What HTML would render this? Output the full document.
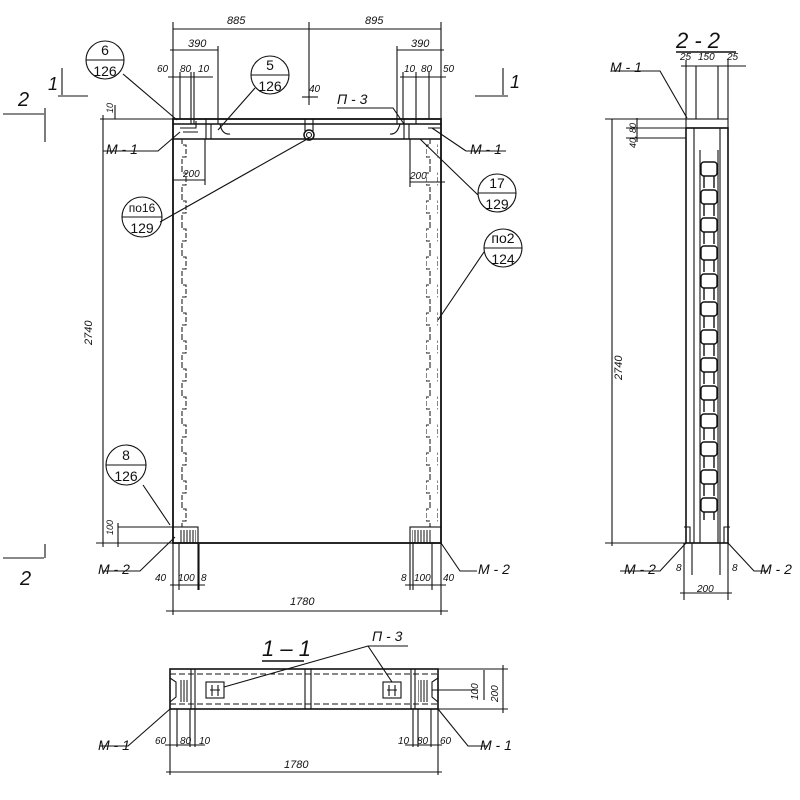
<!DOCTYPE html>
<html><head><meta charset="utf-8"><style>
html,body{margin:0;padding:0;background:#fff}
svg{display:block}
text{font-family:"Liberation Sans",sans-serif;font-style:italic;fill:#111}
.c{text-anchor:middle;font-style:normal;font-size:14px}
</style></head><body>
<svg width="800" height="800" viewBox="0 0 800 800" xmlns="http://www.w3.org/2000/svg">
<defs>
<pattern id="wl" x="0" y="139" width="12" height="28" patternUnits="userSpaceOnUse">
<path d="M2 0 V6 H6 V18 H2 V28" fill="none" stroke="#222" stroke-width="1.1" stroke-dasharray="5 2"/>
</pattern>
<pattern id="wr" x="0" y="139" width="12" height="28" patternUnits="userSpaceOnUse">
<path d="M10 0 V6 H6 V18 H10 V28" fill="none" stroke="#222" stroke-width="1.1" stroke-dasharray="5 2"/>
</pattern>
<pattern id="core" x="700" y="160" width="40" height="28" patternUnits="userSpaceOnUse">
<rect x="1" y="2" width="16" height="14" rx="3" fill="none" stroke="#111" stroke-width="1.4"/>
<path d="M4 16 V30 M14 16 V30" stroke="#111" stroke-width="1.4"/>
</pattern>
<pattern id="hatch" width="3" height="10" patternUnits="userSpaceOnUse">
<path d="M1 0 V10" stroke="#111" stroke-width="1"/>
</pattern>
</defs>
<g stroke="#111" fill="none" stroke-width="1.1">
<rect x="173" y="119" width="268" height="424" stroke-width="1.8"/>
<path d="M173 124 H441 M173 139 H441" stroke-width="1.5"/>
<path d="M206 119 V139 M211 124 V139 M404 119 V139 M409 124 V139 M305 119 V131 M313 119 V131"/>
<path d="M180 128 H196 V121 M428 128 H440 M183 132 H198"/>
<circle cx="309" cy="135" r="5" stroke-width="1.5"/>
<circle cx="309" cy="135" r="2.5"/>
<path d="M220 124 Q222 135 230 134 M400 124 Q397 135 390 134"/>
<rect x="176" y="139" width="12" height="388" fill="url(#wl)" stroke="none"/>
<rect x="426" y="139" width="12" height="388" fill="url(#wr)" stroke="none"/>
<rect x="173" y="527" width="25" height="16"/>
<rect x="179" y="530" width="17" height="13" fill="url(#hatch)" stroke="none"/>
<rect x="410" y="527" width="31" height="16"/>
<rect x="412" y="530" width="20" height="13" fill="url(#hatch)" stroke="none"/>
<path d="M173 29 H441 M173 22 V119 M309 22 V105 M441 22 V119"/>
<path d="M170 50 H218 M218 46 V124 M397 50 H444 M397 46 V124"/>
<path d="M168 77 H213 M180 72 V119 M191 72 V124 M194 72 V124 M400 77 H446 M403 72 V119 M416 72 V124 M429 72 V119"/>
<path d="M302 97 H318"/>
<path d="M100 119 H173 M115 105 V119"/>
<path d="M173 180 H205 M205 139 V185 M410 182 H445 M410 139 V187"/>
<path d="M103 115 V547 M96 543 H173 M118 527 H173 M118 523 V547"/>
<path d="M173 543 V615 M441 543 V615 M166 611 H448 M198 543 V590 M199 543 V590 M179 543 V590 M410 543 V590 M413 543 V590 M432 543 V590 M170 585 H205 M405 585 H446"/>
<path d="M123 74 L177 120 M255 88 L218 130 M103 151 L158 151 L180 132 M337 108 L393 108 L404 124 M466 151 L506 151 M466 151 L432 128 M478 195 L420 139 M160 222 L309 138 M484 252 L438 320 M143 485 L170 525 M103 571 L140 571 L175 537 M477 571 L460 571 L441 543"/>
<circle cx="105" cy="60" r="19"/><path d="M86 60 H124"/>
<circle cx="270" cy="75" r="19"/><path d="M251 75 H289"/>
<circle cx="497" cy="193" r="19"/><path d="M478 193 H516"/>
<circle cx="142" cy="217" r="20"/><path d="M122 217 H162"/>
<circle cx="503" cy="248" r="19"/><path d="M484 248 H522"/>
<circle cx="126" cy="465" r="20"/><path d="M106 465 H146"/>
<path d="M3 114 H44 M45 108 V142 M62 68 V95 M58 96 H88 M503 68 V95 M475 96 H508 M3 558 H44 M45 544 V558"/>
<rect x="686" y="128" width="42" height="415" stroke-width="1.6"/>
<rect x="686" y="119" width="42" height="9"/>
<path d="M694 128 V543 M720 128 V543 M700 150 V543 M718 150 V543"/>
<rect x="700" y="160" width="19" height="360" fill="url(#core)" stroke="none"/>
<path d="M684 527 h6 v16 M730 527 h-6 v16"/>
<path d="M686 60 V119 M728 60 V119 M681 66 H746 M696 66 V119 M718 66 V119"/>
<path d="M612 119 V546 M605 119 H686 M605 543 H686 M626 128 H686 M626 138 H686 M637 118 V142"/>
<path d="M684 543 V600 M728 543 V600 M680 593 H732 M692 543 V575 M720 543 V575"/>
<path d="M612 71 H660 L687 118 M768 571 L754 571 L728 543 M620 571 L660 571 L686 543"/>
<path d="M676 52 H736" stroke-width="1.6"/>
<rect x="170" y="669" width="268" height="40" stroke-width="1.6"/>
<path d="M170 674 H438 M170 704 H438" stroke-dasharray="6 3"/>
<path d="M191 669 V709 M195 669 V709 M411 669 V709 M415 669 V709 M305 669 V709 M311 669 V709"/>
<rect x="206" y="682" width="18" height="16"/><path d="M210 690 H220 M212 685 V696 M218 685 V696"/>
<rect x="383" y="682" width="18" height="16"/><path d="M387 690 H397 M389 685 V696 M395 685 V696"/>
<rect x="179" y="680" width="10" height="22" fill="url(#hatch)" stroke="none"/>
<rect x="418" y="680" width="10" height="22" fill="url(#hatch)" stroke="none"/>
<path d="M170 678 L176 682 V697 L170 702 M438 678 L432 682 V697 L438 702"/>
<path d="M262 661 H304" stroke-width="1.6"/>
<path d="M224 687 L368 646 L408 646 M368 646 L392 682"/>
<path d="M438 669 H508 M438 709 H508 M432 690 H478 M503 665 V713 M484 670 V700"/>
<path d="M170 709 V775 M438 709 V775 M166 772 H442 M177 709 V747 M190 709 V747 M195 709 V747 M413 709 V747 M418 709 V747 M431 709 V747 M165 745 H205 M405 745 H442"/>
<path d="M100 746 L128 746 L170 709 M488 746 L468 746 L438 709"/>
</g>
<g font-size="11">
<text x="227" y="24">885</text><text x="365" y="24">895</text>
<text x="188" y="47">390</text><text x="411" y="47">390</text>
<text x="157" y="72" font-size="10">60</text><text x="180" y="72" font-size="10">80</text><text x="198" y="72" font-size="10">10</text>
<text x="404" y="72" font-size="10">10</text><text x="421" y="72" font-size="10">80</text><text x="443" y="72" font-size="10">50</text>
<text x="309" y="92" font-size="10">40</text>
<text x="183" y="177" font-size="10">200</text><text x="410" y="179" font-size="10">200</text>
<text class="c" x="105" y="55">6</text><text class="c" x="105" y="76">126</text>
<text class="c" x="270" y="70">5</text><text class="c" x="270" y="91">126</text>
<text class="c" x="497" y="188">17</text><text class="c" x="497" y="209">129</text>
<text class="c" x="142" y="212" style="font-size:12px">по16</text><text class="c" x="142" y="233">129</text>
<text class="c" x="503" y="243">по2</text><text class="c" x="503" y="264">124</text>
<text class="c" x="126" y="460">8</text><text class="c" x="126" y="481">126</text>
<text x="106" y="154" font-size="14" font-style="normal">М - 1</text>
<text x="470" y="154" font-size="14" font-style="normal">М - 1</text>
<text x="337" y="104" font-size="14" font-style="normal">П - 3</text>
<text x="98" y="574" font-size="14" font-style="normal">М - 2</text>
<text x="478" y="574" font-size="14" font-style="normal">М - 2</text>
<text x="155" y="581" font-size="10">40</text><text x="178" y="581" font-size="10">100</text><text x="201" y="581" font-size="10">8</text>
<text x="401" y="581" font-size="10">8</text><text x="414" y="581" font-size="10">100</text><text x="443" y="581" font-size="10">40</text>
<text x="290" y="605">1780</text>
<text x="0" y="0" transform="translate(92,345) rotate(-90)">2740</text>
<text x="0" y="0" font-size="9" transform="translate(113,535) rotate(-90)">100</text>
<text x="0" y="0" font-size="9" transform="translate(113,113) rotate(-90)">10</text>
<text x="18" y="106" font-size="20" font-style="normal">2</text>
<text x="48" y="90" font-size="18" font-style="normal">1</text>
<text x="510" y="88" font-size="18" font-style="normal">1</text>
<text x="20" y="585" font-size="20" font-style="normal">2</text>
<text x="676" y="48" font-size="22" font-style="normal">2 - 2</text>
<text x="680" y="60" font-size="10">25</text><text x="698" y="60" font-size="10">150</text><text x="727" y="60" font-size="10">25</text>
<text x="610" y="72" font-size="14" font-style="normal">М - 1</text>
<text x="0" y="0" transform="translate(622,380) rotate(-90)">2740</text>
<text x="0" y="0" font-size="9" transform="translate(636,148) rotate(-90)">40, 80</text>
<text x="624" y="574" font-size="14" font-style="normal">М - 2</text>
<text x="760" y="574" font-size="14" font-style="normal">М - 2</text>
<text x="676" y="571" font-size="10">8</text><text x="732" y="571" font-size="10">8</text>
<text x="697" y="592" font-size="10">200</text>
<text x="262" y="656" font-size="22" font-style="normal">1 – 1</text>
<text x="372" y="641" font-size="14" font-style="normal">П - 3</text>
<text x="0" y="0" font-size="10" transform="translate(478,700) rotate(-90)">100</text>
<text x="0" y="0" font-size="10" transform="translate(498,702) rotate(-90)">200</text>
<text x="98" y="750" font-size="14" font-style="normal">М - 1</text>
<text x="480" y="750" font-size="14" font-style="normal">М - 1</text>
<text x="155" y="744" font-size="10">60</text><text x="180" y="744" font-size="10">80</text><text x="199" y="744" font-size="10">10</text>
<text x="398" y="744" font-size="10">10</text><text x="417" y="744" font-size="10">80</text><text x="440" y="744" font-size="10">60</text>
<text x="284" y="768">1780</text>
</g>
</svg>
</body></html>
